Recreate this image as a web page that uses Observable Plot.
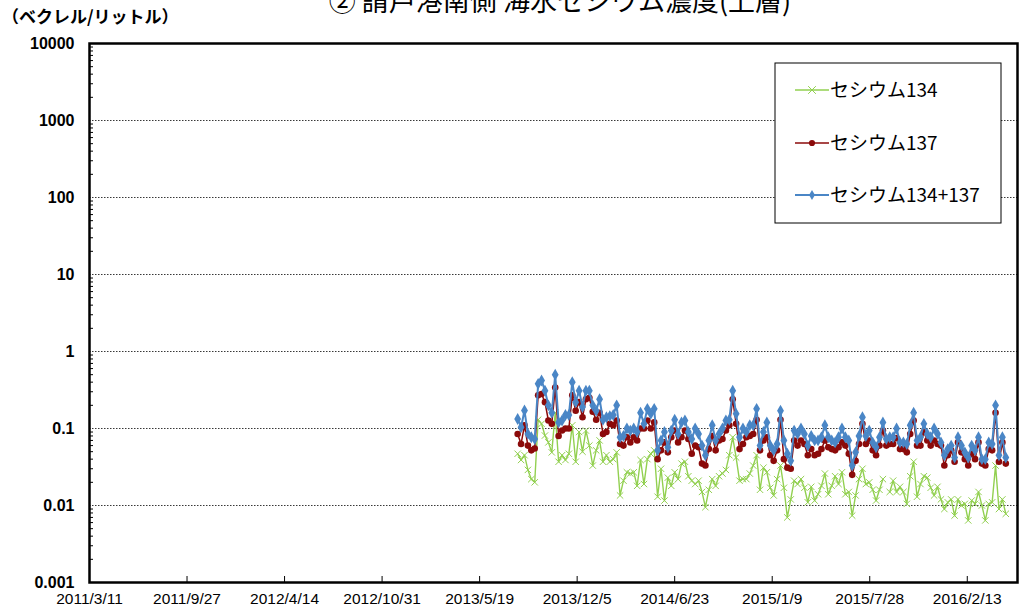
<!DOCTYPE html>
<html><head><meta charset="utf-8">
<script src="https://cdn.jsdelivr.net/npm/d3@7"></script>
<script src="https://cdn.jsdelivr.net/npm/@observablehq/plot@0.6"></script>
<style>body{margin:0;background:#fff;} svg{display:block}</style>
</head><body><div id="chart"></div>
<script>
const title = "② 請戸港南側 海水セシウム濃度(上層)";
const unitLabel = "（ベクレル/リットル）";
const seriesNames = ["セシウム134", "セシウム137", "セシウム134+137"];
const xTickLabels = ["2011/3/11","2011/9/27","2012/4/14","2012/10/31","2013/5/19","2013/12/5","2014/6/23","2015/1/9","2015/7/28","2016/2/13"];
const yTickLabels = ["0.001","0.01","0.1","1","10","100","1000","10000"];
const xEnd = "2016-05-26";

const dates = [
"2013-08-05","2013-08-12","2013-08-19","2013-08-26","2013-09-02","2013-09-09","2013-09-16","2013-09-23","2013-09-30","2013-10-07","2013-10-14","2013-10-21","2013-10-28","2013-11-04","2013-11-11","2013-11-18","2013-11-25","2013-12-02","2013-12-09","2013-12-16","2013-12-23","2013-12-30",
"2014-01-06","2014-01-13","2014-01-20","2014-01-27","2014-02-03","2014-02-10","2014-02-17","2014-02-24","2014-03-03","2014-03-10","2014-03-17","2014-03-24","2014-03-31","2014-04-07","2014-04-14","2014-04-21","2014-04-28","2014-05-05","2014-05-12","2014-05-19","2014-05-26","2014-06-02","2014-06-09","2014-06-16","2014-06-23","2014-06-30","2014-07-07","2014-07-14","2014-07-21","2014-07-28","2014-08-04","2014-08-11","2014-08-18","2014-08-25","2014-09-01","2014-09-08","2014-09-15","2014-09-22","2014-09-29","2014-10-06","2014-10-13","2014-10-20","2014-10-27","2014-11-03","2014-11-10","2014-11-17","2014-11-24","2014-12-01","2014-12-08","2014-12-15","2014-12-22","2014-12-29",
"2015-01-05","2015-01-12","2015-01-19","2015-01-26","2015-02-02","2015-02-09","2015-02-16","2015-02-23","2015-03-02","2015-03-09","2015-03-16","2015-03-23","2015-03-30","2015-04-06","2015-04-13","2015-04-20","2015-04-27","2015-05-04","2015-05-11","2015-05-18","2015-05-25","2015-06-01","2015-06-08","2015-06-15","2015-06-22","2015-06-29","2015-07-06","2015-07-13","2015-07-20","2015-07-27","2015-08-03","2015-08-10","2015-08-17","2015-08-24","2015-08-31","2015-09-07","2015-09-14","2015-09-21","2015-09-28","2015-10-05","2015-10-12","2015-10-19","2015-10-26","2015-11-02","2015-11-09","2015-11-16","2015-11-23","2015-11-30","2015-12-07","2015-12-14","2015-12-21","2015-12-28",
"2016-01-04","2016-01-11","2016-01-18","2016-01-25","2016-02-01","2016-02-08","2016-02-15","2016-02-22","2016-02-29","2016-03-07","2016-03-14","2016-03-21","2016-03-28","2016-04-04","2016-04-11","2016-04-18","2016-04-25","2016-05-02"
];

const cs134 = [
0.047,0.039,0.045,0.029,0.022,0.02,0.13,0.115,0.081,0.066,0.049,0.16,0.037,0.045,0.039,0.047,0.11,0.037,0.09,0.05,0.094,0.06,0.033,
0.052,0.07,0.037,0.045,0.037,0.04,0.049,0.0135,0.021,0.027,0.026,0.027,0.018,0.039,0.019,0.04,0.047,0.052,0.013,0.03,0.0116,0.023,0.018,0.027,
0.022,0.035,0.037,0.024,0.021,0.019,0.021,0.015,0.0095,0.016,0.022,0.018,0.024,0.026,0.029,0.045,0.077,0.042,0.021,0.022,0.022,0.026,0.033,0.045,0.016,
0.031,0.027,0.017,0.0135,0.022,0.033,0.017,0.007,0.012,0.021,0.019,0.022,0.017,0.011,0.0175,0.0116,0.014,0.018,0.026,0.014,0.018,0.024,0.019,0.027,
0.014,0.015,0.0074,0.0135,0.022,0.03,0.019,0.02,0.016,0.0116,0.016,0.022,null,0.015,0.021,0.015,0.0175,0.015,0.0105,0.024,0.037,0.013,0.019,0.024,0.023,
0.017,0.0135,0.0175,0.012,0.009,0.011,0.012,0.0074,0.012,0.01,0.0105,0.0064,0.0116,0.0105,0.015,0.01,0.0064,0.0105,0.011,0.033,0.009,0.012,0.0078
];

const cs137 = [
0.085,0.063,0.11,0.06,0.052,0.055,0.27,0.28,0.22,0.127,0.115,0.34,0.08,0.094,0.1,0.1,0.27,0.17,0.22,0.14,0.24,0.25,0.165,
0.13,0.16,0.085,0.09,0.115,0.11,0.127,0.063,0.06,0.077,0.066,0.077,0.07,0.1,0.1,0.127,0.1,0.12,0.04,0.052,0.066,0.049,0.077,0.094,
0.066,0.077,0.094,0.073,0.047,0.06,0.057,0.035,0.033,0.054,0.08,0.052,0.07,0.073,0.094,0.11,0.24,0.115,0.054,0.063,0.077,0.08,0.085,0.13,0.052,
0.07,0.077,0.045,0.038,0.052,0.13,0.04,0.031,0.03,0.07,0.06,0.07,0.063,0.045,0.054,0.045,0.047,0.054,0.07,0.057,0.054,0.052,0.057,0.066,
0.06,0.047,0.025,0.038,0.063,0.115,0.063,0.07,0.052,0.045,0.06,0.094,0.06,0.063,0.063,0.075,0.054,0.054,0.049,0.085,0.127,0.06,0.06,0.09,0.07,
0.06,0.07,0.063,0.06,0.033,0.045,0.052,0.037,0.066,0.049,0.04,0.033,0.047,0.04,0.066,0.035,0.033,0.054,0.052,0.16,0.037,0.066,0.035
];

const cs134plus137 = [
0.133,0.104,0.171,0.085,0.077,0.073,0.38,0.42,0.31,0.2,0.16,0.5,0.12,0.127,0.15,0.15,0.4,0.22,0.31,0.19,0.31,0.31,0.2,
0.17,0.24,0.13,0.14,0.145,0.15,0.2,0.077,0.08,0.1,0.094,0.1,0.09,0.16,0.115,0.18,0.155,0.18,0.052,0.07,0.09,0.057,0.094,0.13,
0.085,0.12,0.127,0.09,0.073,0.1,0.085,0.06,0.045,0.07,0.11,0.07,0.085,0.1,0.127,0.13,0.31,0.155,0.077,0.1,0.09,0.11,0.11,0.18,0.06,
0.09,0.12,0.06,0.052,0.063,0.17,0.07,0.047,0.038,0.094,0.085,0.1,0.085,0.06,0.08,0.07,0.07,0.077,0.11,0.077,0.07,0.066,0.077,0.1,
0.077,0.07,0.033,0.049,0.08,0.14,0.08,0.094,0.066,0.057,0.077,0.12,0.073,0.077,0.077,0.1,0.066,0.066,0.063,0.11,0.16,0.07,0.077,0.115,0.085,
0.077,0.1,0.085,0.066,0.045,0.054,0.06,0.042,0.077,0.06,0.049,0.042,0.06,0.052,0.077,0.04,0.04,0.066,0.063,0.2,0.045,0.077,0.042
];

const colors = ["#92d050", "#8b0a0a", "#4a86c6"];

const parseSlash = s => { const [y, m, d] = s.split("/").map(Number); return new Date(Date.UTC(y, m - 1, d)); };
const rows = dates.map((d, i) => ({date: new Date(d), cs134: cs134[i], cs137: cs137[i], total: cs134plus137[i]}));
const xTicks = xTickLabels.map(parseSlash);
const xLabelMap = new Map(xTicks.map((d, i) => [+d, xTickLabels[i]]));
const yTicks = yTickLabels.map(Number);
const yLabelMap = new Map(yTicks.map((v, i) => [v, yTickLabels[i]]));
const yMinor = [];
for (let i = 0; i < yTicks.length - 1; i++) for (let k = 2; k <= 9; k++) yMinor.push(yTicks[i] * k);
const gridTicks = yTicks.slice(1, -1);

const latin = "'Liberation Sans', Arial, sans-serif";
const jp = "'Noto Sans CJK JP', sans-serif";

const chart = Plot.plot({
  width: 1024, height: 611,
  marginLeft: 89, marginRight: 7, marginTop: 43, marginBottom: 29,
  style: {fontFamily: latin, background: "#fff", color: "#000"},
  x: {type: "utc", domain: [xTicks[0], new Date(xEnd)]},
  y: {type: "log", domain: [yTicks[0], yTicks[yTicks.length - 1]]},
  marks: [
    Plot.gridY(gridTicks, {stroke: "#222", strokeOpacity: 0.9, strokeDasharray: "1.5,1.5", strokeWidth: 1}),
    Plot.axisY(yMinor, {anchor: "left", tickSize: 4, dx: 4, tickFormat: () => "", label: null, strokeWidth: 1}),
    Plot.axisY(yTicks, {anchor: "left", tickSize: 0, tickPadding: 15, tickFormat: v => yLabelMap.get(v), label: null, fontSize: 16, fontWeight: "bold"}),
    Plot.axisX(xTicks, {anchor: "bottom", tickSize: 6, dy: -6, tickFormat: () => "", label: null, strokeWidth: 1}),
    Plot.axisX(xTicks, {anchor: "bottom", tickSize: 0, tickPadding: 10, tickFormat: d => xLabelMap.get(+d), label: null, fontSize: 15.5}),
    Plot.line(rows, {x: "date", y: "cs134", stroke: colors[0], strokeWidth: 1.4}),
    Plot.dot(rows, {x: "date", y: "cs134", symbol: "times", r: 3, stroke: colors[0], strokeWidth: 1}),
    Plot.line(rows, {x: "date", y: "cs137", stroke: colors[1], strokeWidth: 1.5}),
    Plot.dot(rows, {x: "date", y: "cs137", r: 3.3, fill: colors[1], stroke: "none"}),
    Plot.line(rows, {x: "date", y: "total", stroke: colors[2], strokeWidth: 2}),
    Plot.dot(rows, {x: "date", y: "total", symbol: "diamond", r: 3.6, fill: colors[2], stroke: "none"}),
    Plot.frame({stroke: "#000", strokeWidth: 2.5})
  ]
});

const svg = d3.select(chart);
svg.append("text").attr("x", 560).attr("y", 11).attr("text-anchor", "middle")
  .attr("font-family", jp).attr("font-size", 27).attr("fill", "#000").text(title);
svg.append("text").attr("x", 2).attr("y", 23).attr("text-anchor", "start")
  .attr("font-family", jp).attr("font-size", 17).attr("font-weight", "bold").attr("fill", "#000").text(unitLabel);

const lg = svg.append("g");
lg.append("rect").attr("x", 775).attr("y", 63).attr("width", 226).attr("height", 160)
  .attr("fill", "#fff").attr("stroke", "#000").attr("stroke-width", 1);
const legendY = [90, 143, 195];
const sym = [d3.symbolTimes, d3.symbolCircle, d3.symbolDiamond];
seriesNames.forEach((name, i) => {
  const y = legendY[i];
  lg.append("line").attr("x1", 795).attr("x2", 829).attr("y1", y).attr("y2", y)
    .attr("stroke", colors[i]).attr("stroke-width", i === 2 ? 2 : 1.5);
  const s = lg.append("path").attr("transform", `translate(812,${y})`)
    .attr("d", d3.symbol(sym[i], i === 0 ? 40 : 30)());
  if (i === 0) s.attr("fill", "none").attr("stroke", colors[i]).attr("stroke-width", 1);
  else s.attr("fill", colors[i]);
  lg.append("text").attr("x", 830).attr("y", y).attr("dy", "0.35em").attr("text-anchor", "start")
    .attr("font-family", jp).attr("font-size", 19).attr("fill", "#000").text(name);
});

document.getElementById("chart").appendChild(chart);
</script>
</body></html>
